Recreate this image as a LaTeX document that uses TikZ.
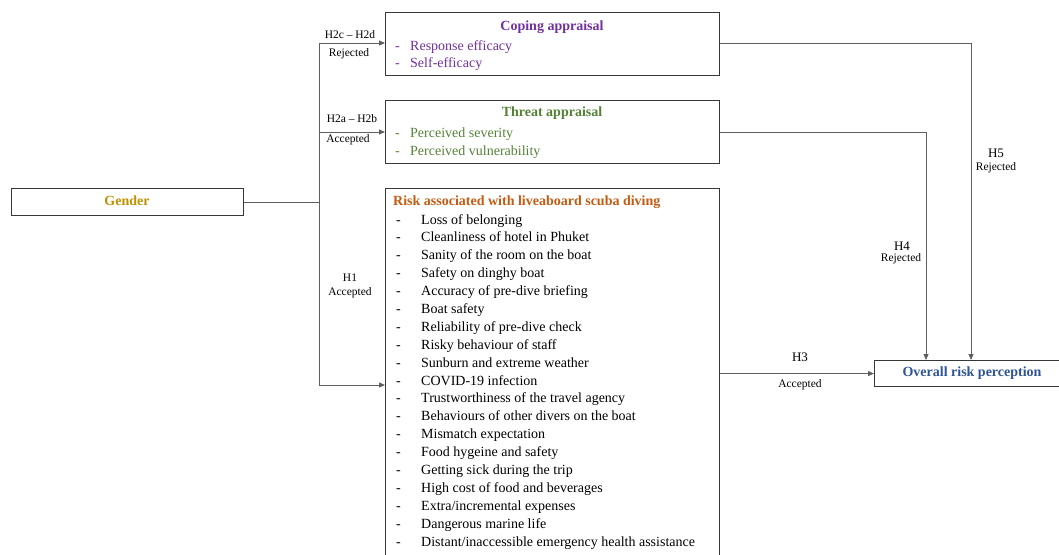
\documentclass[tikz,border=0pt]{standalone}
\usepackage{fontspec}
\setmainfont{Liberation Serif}
\usetikzlibrary{arrows.meta,calc}
\definecolor{cgold}{RGB}{191,144,0}
\definecolor{cpurple}{RGB}{112,48,160}
\definecolor{cgreen}{RGB}{84,130,53}
\definecolor{corange}{RGB}{197,90,17}
\definecolor{cblue}{RGB}{47,84,150}
\definecolor{cline}{RGB}{95,95,95}
\definecolor{cbox}{RGB}{55,55,55}
\tikzset{
  box/.style={draw=cbox, line width=1.1pt, rectangle, inner sep=0pt, anchor=north west},
  conn/.style={draw=cline, line width=0.8pt},
  arr/.style={conn, -{Triangle[length=6pt,width=5pt]}},
  big/.style={font=\fontsize{14}{16}\selectfont, inner sep=0pt},
  bigb/.style={font=\fontsize{14}{16}\selectfont\bfseries, inner sep=0pt},
  lab/.style={font=\fontsize{11.5}{13}\selectfont, inner sep=0pt},
  hlab/.style={font=\fontsize{13}{15}\selectfont, inner sep=0pt},
  item/.style={big, anchor=base west, yshift=-5pt},
}
\begin{document}
\begin{tikzpicture}[x=1pt,y=-1pt]
\useasboundingbox (0,0) rectangle (1059,554);
\clip (0,0) rectangle (1059,554);
% boxes
\node[box, minimum width=232pt, minimum height=27pt] (gender) at (11,188) {};
\node[bigb, text=cgold] (gendert) at (127,201) {Gender};
\node[box, minimum width=334pt, minimum height=63pt] (coping) at (385,12) {};
\node[box, minimum width=334pt, minimum height=63pt] (threat) at (385,100) {};
\node[box, minimum width=334pt, minimum height=400pt] (risk) at (385,188) {};
\node[box, minimum width=186pt, minimum height=26pt] (overall) at (874,360) {};
\node[bigb, text=cblue] (overallt) at (972,373) {Overall risk perception};
% coping texts
\node[bigb, text=cpurple] (copt) at (552,27) {Coping appraisal};
\node[item, text=cpurple] (copd1) at (395,45) {-};
\node[item, text=cpurple] (copi1) at (410,45) {Response efficacy};
\node[item, text=cpurple] (copd2) at (395,62) {-};
\node[item, text=cpurple] (copi2) at (410,62) {Self-efficacy};
% threat texts
\node[bigb, text=cgreen] (thrt) at (552,113) {Threat appraisal};
\node[item, text=cgreen] (thrd1) at (395,132) {-};
\node[item, text=cgreen] (thri1) at (410,132) {Perceived severity};
\node[item, text=cgreen] (thrd2) at (395,150) {-};
\node[item, text=cgreen] (thri2) at (410,150) {Perceived vulnerability};
% risk texts
\node[bigb, text=corange, anchor=west] (riskt) at (393,202) {Risk associated with liveaboard scuba diving};
\foreach \t [count=\i from 0] in {Loss of belonging,Cleanliness of hotel in Phuket,Sanity of the room on the boat,Safety on dinghy boat,Accuracy of pre-dive briefing,Boat safety,Reliability of pre-dive check,Risky behaviour of staff,Sunburn and extreme weather,COVID-19 infection,Trustworthiness of the travel agency,Behaviours of other divers on the boat,Mismatch expectation,Food hygeine and safety,Getting sick during the trip,High cost of food and beverages,Extra/incremental expenses,Dangerous marine life,Distant/inaccessible emergency health assistance}{
  \node[item] (rd\i) at (396,219+17.89*\i) {-};
  \node[item] (ri\i) at (421,219+17.89*\i) {\t};
}
% connectors left
\coordinate (j1) at (319,43);
\coordinate (j2) at (319,132);
\coordinate (j3) at (319,385);
\draw[conn] (gender.east) -- (gender.east -| j1);
\draw[conn] (j1) -- (j3);
\draw[arr] (j1) -- (coping.west |- j1);
\draw[arr] (j2) -- (threat.west |- j2);
\draw[arr] (j3) -- (risk.west |- j3);
% connectors right
\coordinate (c5) at (971,360);
\coordinate (c4) at (926,360);
\draw[arr] (coping.east |- j1) -| (c5);
\draw[arr] (threat.east |- j2) -| (c4);
\draw[arr] (risk.east |- overall.west) -- (overall.west);
% labels
\node[lab] (l2c) at (350,35) {H2c -- H2d};
\node[lab] (l2cr) at (349,54) {Rejected};
\node[lab] (l2a) at (352,119) {H2a -- H2b};
\node[lab] (l2aa) at (348,140) {Accepted};
\node[lab] (l1) at (350,278) {H1};
\node[lab] (l1a) at (350,293) {Accepted};
\node[hlab] (l3) at (800,357) {H3};
\node[lab] (l3a) at (800,385) {Accepted};
\node[hlab] (l4) at (902,246) {H4};
\node[lab] (l4r) at (901,259) {Rejected};
\node[hlab] (l5) at (996,153) {H5};
\node[lab] (l5r) at (996,168) {Rejected};
\end{tikzpicture}
\end{document}
